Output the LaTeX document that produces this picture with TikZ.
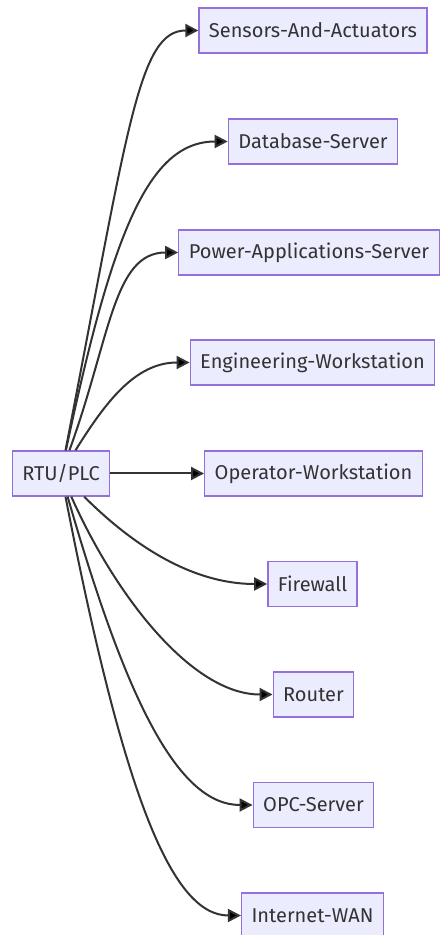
\documentclass[tikz,border=0pt]{standalone}
\usepackage{fontspec}
\setmainfont{Fira Sans}
\usetikzlibrary{arrows.meta}
\definecolor{boxfill}{HTML}{ECECFF}
\definecolor{boxline}{HTML}{9370DB}
\definecolor{ink}{HTML}{333333}

\begin{document}
\begin{tikzpicture}[x=1pt,y=1pt,>={Triangle[length=13pt,width=13pt]},
    box/.style={draw=boxline,fill=boxfill,line width=1.3pt,text=ink,
        minimum height=45pt,inner xsep=10pt,font=\fontsize{20}{24}\selectfont},
    link/.style={->,draw=ink,line width=2pt}]
    \useasboundingbox (0,0) rectangle (443,935);
    \node[box] (rtu) at (61,461.5) {RTU/PLC};
    \node[box] (sens) at (313,904.5) {Sensors-And-Actuators};
    \node[box] (db) at (313,793.5) {Database-Server};
    \node[box] (pas) at (309,682.5) {Power-Applications-Server};
    \node[box] (eng) at (312.5,572.5) {Engineering-Workstation};
    \node[box] (ops) at (313.5,461.5) {Operator-Workstation};
    \node[box] (fw) at (312.5,351) {Firewall};
    \node[box] (router) at (313.5,240.5) {Router};
    \node[box] (opc) at (313.5,130) {OPC-Server};
    \node[box] (wan) at (312.5,19.5) {Internet-WAN};
    \path[link](rtu) edge[out=79,in=180,out distance=330pt,in distance=60pt] (sens);
    \path[link](rtu) edge[out=78,in=180,out distance=220pt,in distance=80pt] (db);
    \path[link](rtu) edge[out=70,in=180,out distance=120pt,in distance=65pt] (pas);
    \path[link](rtu) edge[out=58,in=180,out distance=55pt,in distance=55pt] (eng);
    \path[link](rtu) edge (ops);
    \path[link](rtu) edge[out=-45,in=180,out distance=60pt,in distance=80pt] (fw);
    \path[link](rtu) edge[out=-66,in=180,out distance=110pt,in distance=80pt] (router);
    \path[link](rtu) edge[out=-74,in=180,out distance=210pt,in distance=75pt] (opc);
    \path[link](rtu) edge[out=-79,in=180,out distance=300pt,in distance=70pt] (wan);
\end{tikzpicture}
\end{document}
